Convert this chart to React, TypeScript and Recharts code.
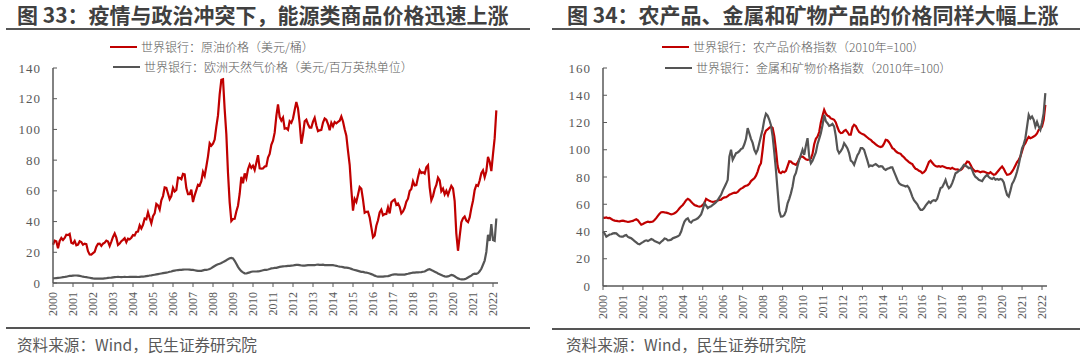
import { LineChart, Line, XAxis, YAxis } from 'recharts';

const START_YEAR = 2000;

// 世界银行：原油价格（美元/桶），月度，2000.01 - 2022.03
const oilPrice = [
  24.9, 27.6, 27.2, 22.6, 27.4, 29.3, 28.0, 29.3, 31.4, 31.2, 32.0, 26.2,
  25.7, 27.4, 24.5, 25.0, 27.2, 26.6, 24.9, 25.6, 25.3, 20.7, 18.6, 18.5,
  19.4, 20.3, 23.7, 25.5, 25.6, 24.2, 25.6, 26.2, 27.6, 27.0, 24.2, 27.0,
  30.0, 32.2, 29.5, 24.8, 25.7, 27.2, 28.1, 29.2, 26.5, 28.9, 28.5, 29.5,
  31.2, 30.9, 33.3, 33.5, 37.6, 35.5, 37.9, 42.0, 41.5, 46.0, 42.3, 38.9,
  43.5, 45.3, 51.5, 50.5, 47.8, 53.9, 56.6, 62.3, 62.0, 58.3, 54.6, 56.6,
  62.0, 59.6, 60.6, 68.6, 68.3, 67.6, 71.1, 70.8, 61.8, 57.9, 57.9, 60.8,
  52.7, 57.1, 60.5, 64.0, 63.5, 66.3, 72.4, 69.8, 75.9, 82.5, 91.0, 89.4,
  90.7, 93.4, 101.8, 109.1, 122.8, 132.3, 132.7, 113.2, 97.0, 71.6, 52.5, 40.4,
  41.7, 41.8, 46.6, 50.3, 58.1, 69.1, 64.9, 71.4, 68.2, 74.1, 77.1, 74.9,
  76.4, 73.6, 78.3, 83.2, 74.7, 74.5, 74.6, 75.8, 76.1, 81.7, 84.1, 90.0,
  92.7, 97.9, 108.7, 116.3, 108.2, 105.8, 107.7, 100.5, 100.8, 99.8, 105.4, 104.3,
  107.1, 112.7, 117.8, 113.7, 104.0, 90.7, 96.8, 105.3, 106.3, 103.4, 101.2, 101.2,
  105.1, 107.6, 102.5, 98.9, 99.4, 99.7, 104.5, 107.1, 106.3, 103.5, 99.5, 104.3,
  102.1, 104.8, 104.0, 104.9, 105.7, 108.4, 105.2, 100.1, 95.9, 86.1, 77.0, 60.7,
  47.1, 54.8, 52.8, 57.5, 62.5, 61.3, 54.3, 45.7, 46.3, 46.4, 42.7, 36.2,
  29.8, 31.0, 37.3, 40.8, 45.9, 47.7, 44.1, 44.9, 45.0, 49.3, 45.3, 52.6,
  53.6, 54.4, 50.9, 51.8, 49.6, 45.3, 46.6, 49.0, 52.9, 54.9, 59.9, 61.2,
  66.2, 63.5, 63.7, 68.8, 73.4, 71.6, 72.1, 71.2, 75.4, 76.7, 62.3, 53.9,
  56.6, 61.1, 63.8, 68.6, 66.8, 59.8, 61.5, 57.7, 60.0, 57.3, 60.4, 63.2,
  61.6, 53.3, 32.2, 21.0, 30.4, 39.5, 42.1, 43.3, 40.6, 39.7, 42.7, 48.7,
  53.6, 60.5, 63.8, 63.2, 66.7, 71.5, 73.3, 68.9, 72.8, 82.1, 79.0, 72.9,
  83.9, 94.3, 112.4,
];

// 世界银行：欧洲天然气价格（美元/百万英热单位）
const gasPrice = [
  3.0, 3.1, 3.2, 3.3, 3.4, 3.6, 3.8, 3.9, 4.1, 4.4, 4.6, 4.7,
  4.8, 4.9, 4.9, 4.8, 4.6, 4.4, 4.1, 3.9, 3.8, 3.6, 3.4, 3.2,
  3.0, 2.9, 2.9, 2.8, 2.8, 2.9, 2.9, 3.0, 3.1, 3.3, 3.4, 3.5,
  3.7, 3.8, 3.9, 4.0, 3.9, 3.8, 3.9, 4.0, 3.9, 3.9, 4.0, 4.0,
  4.0, 4.0, 4.0, 3.9, 4.0, 4.1, 4.2, 4.3, 4.5, 4.6, 4.9, 5.0,
  5.2, 5.4, 5.6, 5.8, 6.0, 6.2, 6.4, 6.6, 6.8, 7.0, 7.3, 7.5,
  7.9, 8.1, 8.3, 8.4, 8.5, 8.6, 8.7, 8.8, 8.8, 8.8, 8.7, 8.6,
  8.5, 8.3, 8.1, 7.9, 7.9, 7.9, 8.2, 8.5, 8.6, 8.8, 9.1, 9.7,
  10.4, 11.1, 11.7, 12.2, 12.5, 13.0, 13.6, 14.2, 14.8, 15.5, 16.1, 16.3,
  16.0, 14.5, 12.5, 10.5, 8.9, 7.7, 6.9, 6.3, 6.2, 6.6, 6.9, 7.3,
  7.5, 7.5, 7.5, 7.6, 7.7, 8.0, 8.3, 8.5, 8.6, 8.8, 9.1, 9.5,
  9.6, 9.8, 9.9, 10.2, 10.5, 10.7, 10.8, 10.9, 11.0, 11.1, 11.2, 11.3,
  11.4, 11.6, 11.8, 11.8, 11.6, 11.4, 11.3, 11.3, 11.5, 11.6, 11.6, 11.7,
  11.6, 11.6, 11.9, 12.0, 11.8, 11.8, 11.9, 11.7, 11.7, 11.7, 11.7, 11.6,
  11.6, 11.4, 11.2, 10.9, 10.7, 10.6, 10.3, 10.0, 10.0, 9.8, 9.6, 9.2,
  8.8, 8.5, 8.2, 7.9, 7.6, 7.3, 7.2, 6.9, 6.8, 6.5, 6.2, 5.8,
  5.4, 4.8, 4.4, 4.2, 4.1, 4.1, 4.2, 4.3, 4.4, 4.5, 4.8, 5.2,
  5.5, 5.7, 5.6, 5.5, 5.4, 5.4, 5.5, 5.5, 5.8, 6.0, 6.3, 6.5,
  6.7, 6.8, 6.9, 6.9, 7.0, 7.1, 7.3, 7.5, 8.1, 8.7, 9.0, 8.5,
  7.9, 7.4, 6.9, 6.2, 5.7, 5.2, 4.7, 4.3, 4.2, 4.3, 4.8, 5.3,
  5.0, 4.4, 3.7, 3.0, 2.6, 2.4, 2.3, 2.5, 3.0, 3.6, 4.2, 4.8,
  5.7, 6.1, 6.0, 6.4, 7.6, 9.3, 11.9, 14.6, 20.2, 31.4, 27.4, 38.4,
  28.0, 27.5, 42.0,
];

// 世界银行：农产品价格指数（2010年=100）
const agriIndex = [
  50.2, 50.0, 50.4, 49.8, 50.0, 49.2, 48.5, 48.0, 47.8, 47.6, 47.5, 47.8,
  48.0, 47.6, 47.3, 47.0, 47.2, 47.5, 47.8, 48.5, 49.0, 48.2, 46.5, 45.0,
  45.5, 46.2, 46.8, 47.2, 46.9, 47.0, 47.3, 48.5, 49.8, 51.5, 53.0, 54.1,
  54.3, 54.0, 53.8, 53.5, 53.0, 52.6, 52.8, 53.4, 54.2, 55.5, 57.0, 58.3,
  59.5, 61.2, 63.0, 63.9, 63.2, 61.8, 60.5, 59.5, 59.0, 58.5, 58.3, 58.5,
  59.5, 61.0, 63.9, 63.2, 62.5, 62.0, 61.8, 62.0, 62.3, 62.8, 63.2, 63.4,
  64.5, 65.0, 65.2, 66.0, 67.0, 67.5, 68.1, 68.5, 68.3, 69.0, 70.5, 71.5,
  72.0, 73.0, 73.5, 74.0, 75.0, 77.0, 78.0, 79.0, 81.0, 84.0, 88.0, 90.1,
  100.0, 111.0, 114.0, 115.0, 116.0, 117.0, 116.0, 110.0, 100.0, 88.0, 83.5, 82.8,
  84.0, 83.5, 84.5, 88.0, 91.5, 91.3, 90.0, 89.5, 88.9, 90.5, 93.0, 95.0,
  95.0, 94.0, 93.0, 92.6, 92.8, 93.5, 97.0, 104.0, 108.0, 109.7, 113.0, 120.0,
  125.0, 129.3, 126.5, 125.0, 124.4, 123.0, 122.5, 122.0, 120.0, 116.5, 113.5, 112.2,
  112.5, 113.8, 114.6, 113.0, 111.0, 111.0, 116.5, 118.3, 117.5, 115.0, 113.0, 112.2,
  111.5, 111.0, 110.0, 109.0, 108.0, 107.3, 106.0, 105.0, 104.0, 103.0, 102.4, 102.0,
  102.5, 104.5, 107.3, 107.0, 105.5, 103.5, 101.2, 100.5, 99.0, 98.0, 97.5, 97.0,
  95.5, 94.5, 93.0, 92.0, 91.0, 90.1, 89.5, 87.5, 86.0, 85.5, 84.5, 84.0,
  82.8, 83.5, 85.0, 88.0, 91.0, 92.0, 90.5, 89.0, 88.0, 87.7, 88.0, 87.5,
  88.0, 87.5, 87.0, 86.5, 86.6, 86.0, 86.8, 86.0, 85.5, 85.6, 85.2, 85.0,
  86.0, 88.0, 89.5, 91.3, 91.0, 89.0, 86.5, 85.0, 84.0, 84.5, 84.0, 83.5,
  84.0, 84.0, 83.5, 83.0, 82.5, 83.5, 82.5, 81.6, 82.0, 83.5, 85.0, 86.5,
  87.7, 86.0, 83.5, 81.6, 81.8, 82.5, 84.0, 86.0, 88.5, 91.0, 92.6, 95.0,
  99.0, 103.0, 104.8, 107.5, 109.5, 108.5, 109.0, 109.7, 110.5, 112.0, 114.6, 115.5,
  117.0, 122.0, 133.0,
];

// 世界银行：金属和矿物价格指数（2010年=100）
const metalIndex = [
  39.9, 38.5, 36.2, 37.0, 37.8, 38.0, 38.6, 38.8, 38.6, 37.5, 36.5, 36.2,
  36.2, 37.0, 37.4, 36.0, 35.5, 35.0, 34.0, 33.0, 32.0, 31.0, 30.6, 31.5,
  32.2, 33.0, 33.5, 33.0, 33.7, 34.5, 34.0, 33.0, 32.5, 32.0, 31.3, 32.5,
  33.5, 34.9, 34.5, 33.5, 33.7, 34.0, 35.0, 35.5, 36.0, 36.5, 37.4, 40.0,
  44.0, 47.3, 49.0, 49.7, 47.3, 46.5, 48.0, 48.5, 49.0, 49.7, 51.0, 52.5,
  56.0, 60.7, 59.0, 57.1, 58.0, 58.5, 59.5, 60.5, 61.5, 63.0, 65.0, 66.9,
  70.0, 72.5, 75.0, 77.9, 95.0, 100.0, 92.6, 95.0, 97.5, 98.0, 99.0, 100.5,
  101.2, 104.0, 108.0, 115.9, 112.0, 108.0, 105.0, 100.0, 97.5, 100.0, 105.0, 110.0,
  115.0, 122.0, 126.4, 125.0, 122.0, 118.0, 110.0, 98.0, 85.0, 70.0, 55.0, 50.9,
  51.0, 52.0, 55.0, 60.7, 64.0, 68.0, 73.0, 80.3, 83.0, 88.0, 92.6, 96.3,
  100.0, 96.3, 103.0, 108.5, 95.0, 90.1, 92.0, 95.0, 98.0, 104.0, 108.0, 112.2,
  118.0, 125.6, 121.0, 119.5, 117.5, 118.0, 119.0, 117.0, 110.0, 100.0, 97.5, 99.0,
  101.0, 104.8, 103.0, 101.0, 97.5, 92.0, 91.0, 88.9, 92.6, 96.0, 98.0, 101.2,
  101.2, 100.0, 96.0, 92.0, 87.7, 88.5, 88.0, 88.9, 89.5, 88.5, 87.5, 88.0,
  87.7, 86.0, 85.2, 86.0, 86.5, 87.0, 87.0, 84.0, 81.0, 78.0, 75.5, 74.5,
  74.0, 73.5, 73.0, 73.5, 72.0, 69.0, 65.6, 63.0, 61.5, 60.0, 57.5, 55.8,
  55.8, 57.0, 59.0, 60.5, 62.0, 61.0, 62.5, 63.0, 62.5, 64.0, 68.1, 71.9,
  72.5, 75.0, 77.9, 74.0, 71.8, 73.0, 75.5, 79.0, 82.8, 83.5, 84.5, 85.5,
  87.0, 88.9, 88.2, 87.5, 86.5, 87.0, 85.2, 82.0, 80.0, 79.1, 78.0, 77.5,
  77.0, 79.0, 80.5, 81.6, 80.0, 79.0, 78.5, 79.5, 78.0, 78.5, 78.0, 78.5,
  78.0, 76.0, 71.0, 66.9, 65.6, 70.0, 75.0, 77.0, 80.0, 84.0, 89.0, 95.0,
  101.0, 104.0, 108.5, 117.0, 125.6, 123.0, 124.4, 122.0, 117.0, 120.5, 117.0, 114.6,
  120.0, 126.9, 141.6,
];

const yearTicks = Array.from({ length: 23 }, (_, k) => k * 12);
const energyTicks = [0, 20, 40, 60, 80, 100, 120, 140];
const indexTicks = [0, 20, 40, 60, 80, 100, 120, 140, 160];

const energyData = oilPrice.map((v, i) => ({ m: i, oil: v, gas: gasPrice[i] }));
const indexData = agriIndex.map((v, i) => ({ m: i, agri: v, metal: metalIndex[i] }));

const RED = '#c00000';
const GREY = '#555555';
const TEXT = '#595959';
const AXIS = '#595959';

const YearTick = (props: any) => {
  const { x, y, payload } = props;
  return (
    <g transform={`translate(${x},${y + 3}) rotate(-90)`}>
      <text x={0} y={0} dy="0.35em" textAnchor="end" fill={TEXT}
        fontFamily="'Liberation Serif', serif" fontSize={12}>
        {START_YEAR + payload.value / 12}
      </text>
    </g>
  );
};

const makeValueTick = (axisX: number) => (props: any) => {
  const { x, y, payload } = props;
  return (
    <g>
      <line x1={axisX} x2={axisX + 4} y1={y} y2={y} stroke={AXIS} strokeWidth={1} />
      <text x={x} y={y} dy="0.35em" textAnchor="end" fill={TEXT}
        fontFamily="'Liberation Serif', serif" fontSize={13} letterSpacing={1}>
        {payload.value}
      </text>
    </g>
  );
};

function Title({ left, text }: { left: number; text: string }) {
  return (
    <div style={{
      position: 'absolute', left, top: 3, whiteSpace: 'nowrap',
      fontFamily: "'Noto Sans CJK SC', sans-serif", fontWeight: 700,
      fontSize: 21, lineHeight: '23px', color: '#404040',
    }}>{text}</div>
  );
}

function Rule({ left, width, top }: { left: number; width: number; top: number }) {
  return <div style={{ position: 'absolute', left, top, width, height: 2, background: '#555' }} />;
}

function LegendItem({ left, top, color, text }: { left: number; top: number; color: string; text: string }) {
  return (
    <div style={{ position: 'absolute', left, top, display: 'flex', alignItems: 'center', whiteSpace: 'nowrap' }}>
      <div style={{ width: 27, height: 2, background: color, marginRight: 4 }} />
      <span style={{
        fontFamily: "'Noto Sans CJK SC', sans-serif", fontSize: 12, color: TEXT,
        lineHeight: '14px', fontWeight: 300,
      }}>{text}</span>
    </div>
  );
}

function Source({ left }: { left: number }) {
  return (
    <div style={{
      position: 'absolute', left, top: 335, whiteSpace: 'nowrap',
      fontFamily: "'Noto Sans CJK SC', sans-serif", fontSize: 15.6, lineHeight: '18px', color: TEXT,
    }}>资料来源：Wind，民生证券研究院</div>
  );
}

export default function App() {
  return (
    <div style={{ position: 'fixed', left: 0, top: 0, width: 1080, height: 356, background: '#fff', overflow: 'hidden' }}>
      <Title left={17} text="图 33：疫情与政治冲突下，能源类商品价格迅速上涨" />
      <Title left={567} text="图 34：农产品、金属和矿物产品的价格同样大幅上涨" />
      <Rule left={6} width={524} top={28} />
      <Rule left={552} width={528} top={28} />

      <div style={{ position: 'absolute', left: 0, top: 0 }}>
        <LineChart width={540} height={356} data={energyData}
          margin={{ top: 68, right: 42, bottom: 38, left: 13 }}>
          <XAxis dataKey="m" type="number" domain={[0, 267]} ticks={yearTicks}
            interval={0} height={35} tick={<YearTick />} tickSize={4}
            axisLine={{ stroke: AXIS, strokeWidth: 1.5 }} tickLine={{ stroke: AXIS }} />
          <YAxis width={40} domain={[0, 140]} ticks={energyTicks} tickLine={false}
            tick={makeValueTick(53)} tickMargin={6}
            axisLine={{ stroke: AXIS, strokeWidth: 1.5 }} />
          <Line type="linear" dataKey="oil" stroke={RED} strokeWidth={2.2} dot={false} isAnimationActive={false} />
          <Line type="linear" dataKey="gas" stroke={GREY} strokeWidth={2.2} dot={false} isAnimationActive={false} />
        </LineChart>
      </div>

      <div style={{ position: 'absolute', left: 540, top: 0 }}>
        <LineChart width={540} height={356} data={indexData}
          margin={{ top: 68, right: 33, bottom: 35, left: 23 }}>
          <XAxis dataKey="m" type="number" domain={[0, 267]} ticks={yearTicks}
            interval={0} height={35} tick={<YearTick />} tickSize={4}
            axisLine={{ stroke: AXIS, strokeWidth: 1.5 }} tickLine={{ stroke: AXIS }} />
          <YAxis width={40} domain={[0, 160]} ticks={indexTicks} tickLine={false}
            tick={makeValueTick(63)} tickMargin={6}
            axisLine={{ stroke: AXIS, strokeWidth: 1.5 }} />
          <Line type="linear" dataKey="agri" stroke={RED} strokeWidth={2.2} dot={false} isAnimationActive={false} />
          <Line type="linear" dataKey="metal" stroke={GREY} strokeWidth={2.2} dot={false} isAnimationActive={false} />
        </LineChart>
      </div>

      <LegendItem left={110} top={40} color={RED} text="世界银行：原油价格（美元/桶）" />
      <LegendItem left={113} top={60} color={GREY} text="世界银行：欧洲天然气价格（美元/百万英热单位）" />
      <LegendItem left={662} top={40} color={RED} text="世界银行：农产品价格指数（2010年=100）" />
      <LegendItem left={665} top={61} color={GREY} text="世界银行：金属和矿物价格指数（2010年=100）" />

      <Rule left={6} width={524} top={327} />
      <Rule left={552} width={528} top={328} />
      <Source left={17} />
      <Source left={566} />
    </div>
  );
}
